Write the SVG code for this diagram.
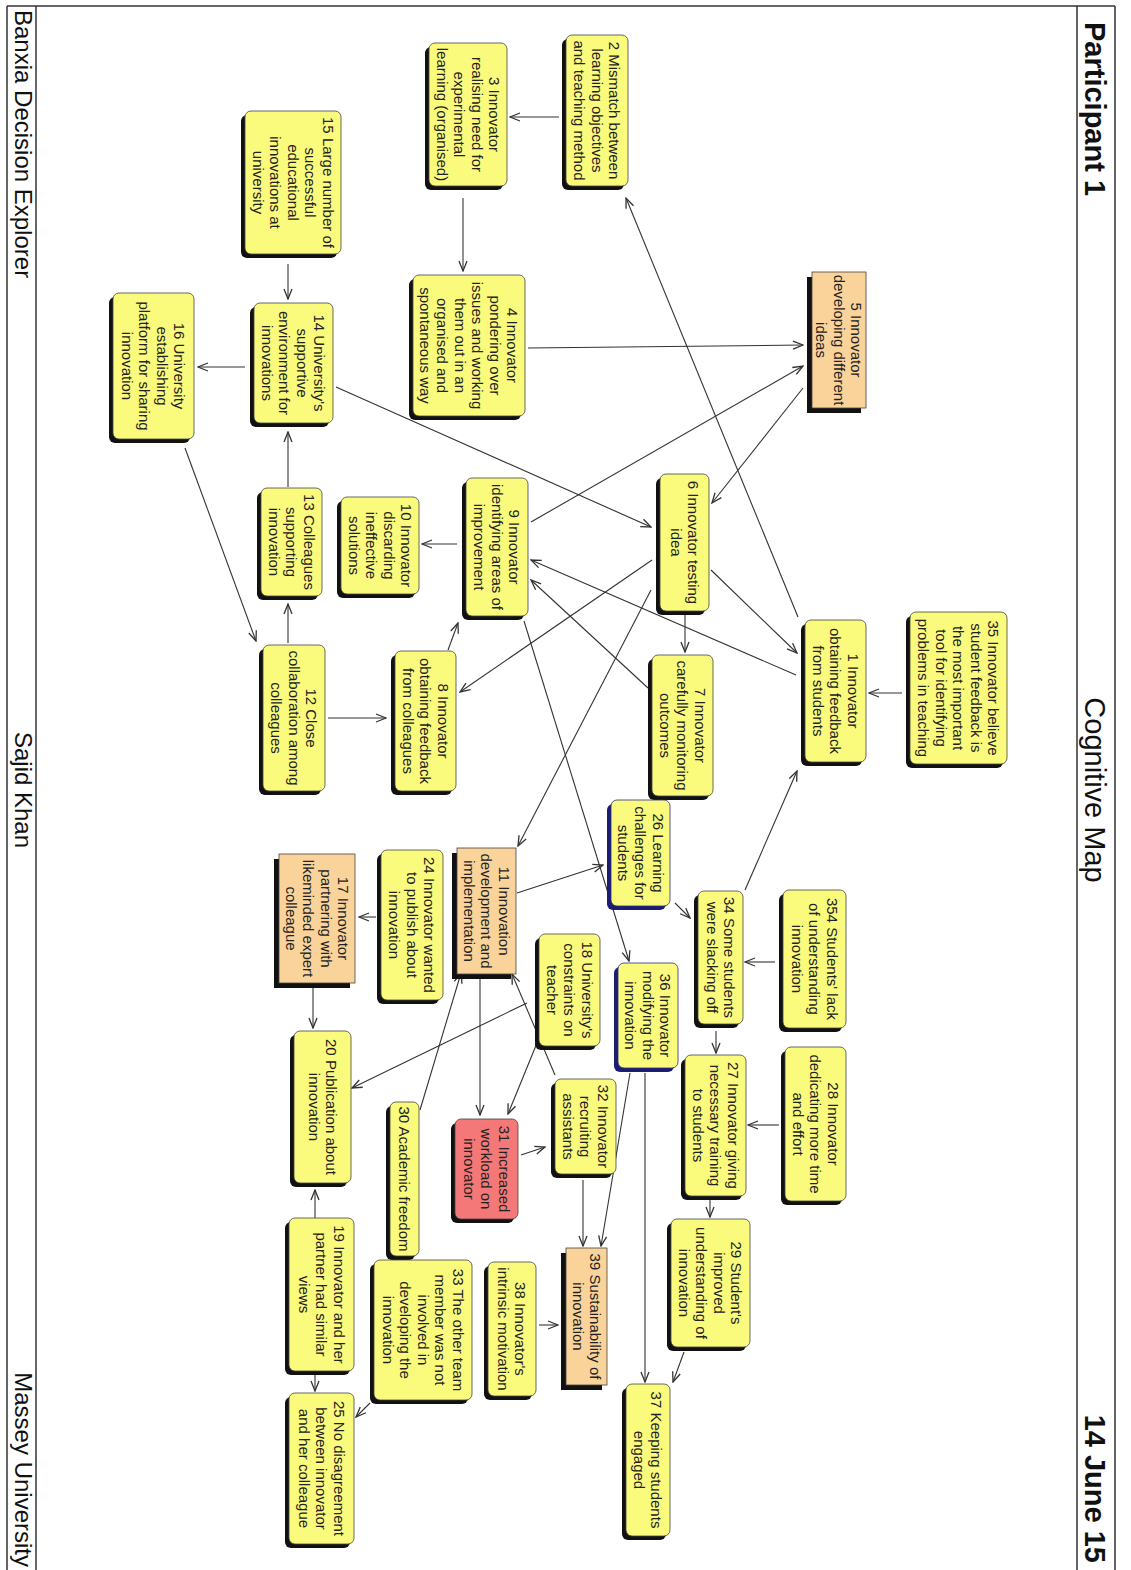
<svg xmlns="http://www.w3.org/2000/svg" width="1131" height="1570" viewBox="0 0 1131 1570">
<style>
  .frame{stroke:#333;stroke-width:1.5;fill:none}
  .hd{font-family:"Liberation Sans",Arial,sans-serif;fill:#111}
  .sh{fill:#111}
  .bx{fill:#fafa7c;stroke:#444;stroke-width:0.8}
  .or .bx{fill:#f9d39a}
  .rd .bx{fill:#f57878}
  .bl .sh{fill:#1c1c70}
  .bl .bx{stroke:#2c2c8a}
  .node text{font-family:"Liberation Sans",Arial,sans-serif;font-size:15px;fill:#222;text-anchor:middle}
  #links line{stroke:#333;stroke-width:1.1;marker-end:url(#ah)}
</style>
<defs>
  <marker id="ah" viewBox="0 0 12 10" refX="11" refY="5" markerWidth="12" markerHeight="10" markerUnits="userSpaceOnUse" orient="auto">
    <path d="M1,1 L11,5 L1,9" fill="none" stroke="#333" stroke-width="1.3"/>
  </marker>
</defs>
<rect width="1131" height="1570" fill="#fff"/>
<!-- page is laid out in landscape and turned a quarter turn clockwise -->
<g transform="translate(1131,0) rotate(90)">
  <g id="page">
    <line class="frame" x1="6" y1="16" x2="1600" y2="16"/>
    <line class="frame" x1="6" y1="1124" x2="1600" y2="1124"/>
    <line class="frame" x1="6" y1="16" x2="6" y2="1124"/>
    <line class="frame" x1="6" y1="54" x2="1600" y2="54"/>
    <line class="frame" x1="6" y1="1095" x2="1600" y2="1095"/>
    <text class="hd" x="22" y="46" font-size="29" font-weight="bold">Participant 1</text>
    <text class="hd" x="790" y="46" font-size="29" text-anchor="middle">Cognitive Map</text>
    <text class="hd" x="1563" y="46" font-size="29" font-weight="bold" text-anchor="end">14 June 15</text>
    <text class="hd" x="10" y="1116" font-size="24">Banxia Decision Explorer</text>
    <text class="hd" x="790" y="1116" font-size="24" text-anchor="middle">Sajid Khan</text>
    <text class="hd" x="1567" y="1116" font-size="24" text-anchor="end">Massey University</text>
  </g>

  <g id="links">
    <line x1="117" y1="572" x2="117" y2="621"/>
    <line x1="198" y1="668" x2="271" y2="668"/>
    <line x1="264" y1="843" x2="299" y2="843"/>
    <line x1="348" y1="603" x2="345" y2="328"/>
    <line x1="367" y1="886" x2="367" y2="933"/>
    <line x1="617" y1="333" x2="198" y2="505"/>
    <line x1="388" y1="328" x2="503" y2="419"/>
    <line x1="522" y1="600" x2="366" y2="328"/>
    <line x1="387" y1="795" x2="527" y2="480"/>
    <line x1="544" y1="674" x2="544" y2="709"/>
    <line x1="487" y1="843" x2="432" y2="843"/>
    <line x1="643" y1="843" x2="604" y2="843"/>
    <line x1="448" y1="946" x2="641" y2="875"/>
    <line x1="570" y1="420" x2="653" y2="334"/>
    <line x1="615" y1="446" x2="652" y2="446"/>
    <line x1="675" y1="335" x2="560" y2="600"/>
    <line x1="688" y1="483" x2="580" y2="600"/>
    <line x1="560" y1="479" x2="692" y2="671"/>
    <line x1="650" y1="683" x2="623" y2="673"/>
    <line x1="718" y1="803" x2="718" y2="745"/>
    <line x1="693" y1="229" x2="693" y2="262"/>
    <line x1="621" y1="607" x2="961" y2="502"/>
    <line x1="590" y1="480" x2="846" y2="613"/>
    <line x1="890" y1="386" x2="771" y2="334"/>
    <line x1="893" y1="614" x2="865" y2="528"/>
    <line x1="903" y1="456" x2="918" y2="441"/>
    <line x1="962" y1="356" x2="962" y2="386"/>
    <line x1="917" y1="755" x2="917" y2="772"/>
    <line x1="987" y1="818" x2="1028" y2="818"/>
    <line x1="1003" y1="604" x2="1088" y2="779"/>
    <line x1="978" y1="651" x2="1115" y2="651"/>
    <line x1="1110" y1="711" x2="973" y2="670"/>
    <line x1="1075" y1="576" x2="974" y2="619"/>
    <line x1="1043" y1="594" x2="1114" y2="623"/>
    <line x1="1155" y1="610" x2="1147" y2="586"/>
    <line x1="1031" y1="415" x2="1053" y2="415"/>
    <line x1="1125" y1="352" x2="1125" y2="383"/>
    <line x1="1180" y1="548" x2="1246" y2="548"/>
    <line x1="1073" y1="501" x2="1246" y2="530"/>
    <line x1="1073" y1="486" x2="1382" y2="486"/>
    <line x1="1200" y1="421" x2="1217" y2="421"/>
    <line x1="1352" y1="447" x2="1382" y2="458"/>
    <line x1="1325" y1="592" x2="1325" y2="573"/>
    <line x1="1218" y1="816" x2="1190" y2="816"/>
    <line x1="1375" y1="816" x2="1391" y2="816"/>
    <line x1="1403" y1="761" x2="1417" y2="775"/>
  </g>

  <g id="n2" class="node"><rect class="sh" x="39" y="507" width="151" height="62" rx="6"/><rect class="bx" x="35" y="503" width="151" height="62" rx="6"/>
    <text><tspan x="110.5" y="521.8">2 Mismatch between</tspan><tspan x="110.5" y="539.3">learning objectives</tspan><tspan x="110.5" y="556.8">and teaching method</tspan></text></g>
  <g id="n3" class="node"><rect class="sh" x="47" y="628" width="143" height="78" rx="6"/><rect class="bx" x="43" y="624" width="143" height="78" rx="6"/>
    <text><tspan x="114.5" y="642">3 Innovator</tspan><tspan x="114.5" y="659.5">realising need for</tspan><tspan x="114.5" y="677">experimental</tspan><tspan x="114.5" y="694.5">learning (organised)</tspan></text></g>
  <g id="n15" class="node"><rect class="sh" x="115" y="794" width="143" height="96" rx="6"/><rect class="bx" x="111" y="790" width="143" height="96" rx="6"/>
    <text><tspan x="182.5" y="808.3">15 Large number of</tspan><tspan x="182.5" y="825.8">successful</tspan><tspan x="182.5" y="843.3">educational</tspan><tspan x="182.5" y="860.8">innovations at</tspan><tspan x="182.5" y="878.3">university</tspan></text></g>
  <g id="n5" class="node or"><rect class="sh" x="277" y="270" width="136" height="54"/><rect class="bx" x="272" y="265" width="136" height="54"/>
    <text><tspan x="340" y="279.8">5 Innovator</tspan><tspan x="340" y="297.3">developing different</tspan><tspan x="340" y="314.8">ideas</tspan></text></g>
  <g id="n4" class="node"><rect class="sh" x="279" y="610" width="141" height="112" rx="6"/><rect class="bx" x="275" y="606" width="141" height="112" rx="6"/>
    <text><tspan x="345.5" y="623.6">4 Innovator</tspan><tspan x="345.5" y="641.1">pondering over</tspan><tspan x="345.5" y="658.6">issues and working</tspan><tspan x="345.5" y="676.1">them out in an</tspan><tspan x="345.5" y="693.6">organised and</tspan><tspan x="345.5" y="711.1">spontaneous way</tspan></text></g>
  <g id="n14" class="node"><rect class="sh" x="307" y="802" width="120" height="79" rx="6"/><rect class="bx" x="303" y="798" width="120" height="79" rx="6"/>
    <text><tspan x="363" y="816.6">14 University's</tspan><tspan x="363" y="834.1">supportive</tspan><tspan x="363" y="851.6">environment for</tspan><tspan x="363" y="869.1">innovations</tspan></text></g>
  <g id="n16" class="node"><rect class="sh" x="297" y="941" width="146" height="81" rx="6"/><rect class="bx" x="293" y="937" width="146" height="81" rx="6"/>
    <text><tspan x="366" y="956.6">16 University</tspan><tspan x="366" y="974.1">establishing</tspan><tspan x="366" y="991.6">platform for sharing</tspan><tspan x="366" y="1009.1">innovation</tspan></text></g>
  <g id="n6" class="node"><rect class="sh" x="478" y="426" width="137" height="49" rx="6"/><rect class="bx" x="474" y="422" width="137" height="49" rx="6"/>
    <text><tspan x="542.5" y="443">6 Innovator testing</tspan><tspan x="542.5" y="460.5">idea</tspan></text></g>
  <g id="n9" class="node"><rect class="sh" x="482" y="607" width="138" height="62" rx="6"/><rect class="bx" x="478" y="603" width="138" height="62" rx="6"/>
    <text><tspan x="547" y="621.8">9 Innovator</tspan><tspan x="547" y="639.3">identifying areas of</tspan><tspan x="547" y="656.8">improvement</tspan></text></g>
  <g id="n10" class="node"><rect class="sh" x="501" y="716" width="97" height="78" rx="6"/><rect class="bx" x="497" y="712" width="97" height="78" rx="6"/>
    <text><tspan x="545.5" y="730">10 Innovator</tspan><tspan x="545.5" y="747.5">discarding</tspan><tspan x="545.5" y="765">ineffective</tspan><tspan x="545.5" y="782.5">solutions</tspan></text></g>
  <g id="n13" class="node"><rect class="sh" x="492" y="813" width="108" height="61" rx="6"/><rect class="bx" x="488" y="809" width="108" height="61" rx="6"/>
    <text><tspan x="542" y="827.3">13 Colleagues</tspan><tspan x="542" y="844.8">supporting</tspan><tspan x="542" y="862.3">innovation</tspan></text></g>
  <g id="n1" class="node"><rect class="sh" x="624" y="269" width="142" height="61" rx="6"/><rect class="bx" x="620" y="265" width="142" height="61" rx="6"/>
    <text><tspan x="691" y="283.3">1 Innovator</tspan><tspan x="691" y="300.8">obtaining feedback</tspan><tspan x="691" y="318.3">from students</tspan></text></g>
  <g id="n35" class="node"><rect class="sh" x="616" y="128" width="152" height="97" rx="6"/><rect class="bx" x="612" y="124" width="152" height="97" rx="6"/>
    <text><tspan x="688" y="142.8">35 Innovator believe</tspan><tspan x="688" y="160.3">student feedback is</tspan><tspan x="688" y="177.8">the most important</tspan><tspan x="688" y="195.3">tool for identifying</tspan><tspan x="688" y="212.8">problems in teaching</tspan></text></g>
  <g id="n7" class="node"><rect class="sh" x="659" y="422" width="141" height="61" rx="6"/><rect class="bx" x="655" y="418" width="141" height="61" rx="6"/>
    <text><tspan x="725.5" y="436.3">7 Innovator</tspan><tspan x="725.5" y="453.8">carefully monitoring</tspan><tspan x="725.5" y="471.3">outcomes</tspan></text></g>
  <g id="n8" class="node"><rect class="sh" x="655" y="679" width="140" height="61" rx="6"/><rect class="bx" x="651" y="675" width="140" height="61" rx="6"/>
    <text><tspan x="721" y="693.3">8 Innovator</tspan><tspan x="721" y="710.8">obtaining feedback</tspan><tspan x="721" y="728.3">from colleagues</tspan></text></g>
  <g id="n12" class="node"><rect class="sh" x="649" y="810" width="146" height="62" rx="6"/><rect class="bx" x="645" y="806" width="146" height="62" rx="6"/>
    <text><tspan x="718" y="824.8">12 Close</tspan><tspan x="718" y="842.3">collaboration among</tspan><tspan x="718" y="859.8">colleagues</tspan></text></g>
  <g id="n26" class="node bl"><rect class="sh" x="804" y="465" width="106" height="59" rx="6"/><rect class="bx" x="800" y="461" width="106" height="59" rx="6"/>
    <text><tspan x="853" y="478.3">26 Learning</tspan><tspan x="853" y="495.8">challenges for</tspan><tspan x="853" y="513.3">students</tspan></text></g>
  <g id="n34" class="node"><rect class="sh" x="895" y="392" width="133" height="45" rx="6"/><rect class="bx" x="891" y="388" width="133" height="45" rx="6"/>
    <text><tspan x="957.5" y="407">34 Some students</tspan><tspan x="957.5" y="424.5">were slacking off</tspan></text></g>
  <g id="n354" class="node"><rect class="sh" x="894" y="289" width="138" height="63" rx="6"/><rect class="bx" x="890" y="285" width="138" height="63" rx="6"/>
    <text><tspan x="959" y="304.3">354 Students' lack</tspan><tspan x="959" y="321.8">of understanding</tspan><tspan x="959" y="339.3">innovation</tspan></text></g>
  <g id="n11" class="node or"><rect class="sh" x="853" y="620" width="126" height="59"/><rect class="bx" x="848" y="615" width="126" height="59"/>
    <text><tspan x="911" y="632.3">11 Innovation</tspan><tspan x="911" y="649.8">development and</tspan><tspan x="911" y="667.3">implementation</tspan></text></g>
  <g id="n24" class="node"><rect class="sh" x="854" y="692" width="150" height="62" rx="6"/><rect class="bx" x="850" y="688" width="150" height="62" rx="6"/>
    <text><tspan x="925" y="706.8">24 Innovator wanted</tspan><tspan x="925" y="724.3">to publish about</tspan><tspan x="925" y="741.8">innovation</tspan></text></g>
  <g id="n17" class="node or"><rect class="sh" x="859" y="781" width="129" height="76"/><rect class="bx" x="854" y="776" width="129" height="76"/>
    <text><tspan x="918.5" y="793">17 Innovator</tspan><tspan x="918.5" y="810.5">partnering with</tspan><tspan x="918.5" y="828">likeminded expert</tspan><tspan x="918.5" y="845.5">colleague</tspan></text></g>
  <g id="n18" class="node"><rect class="sh" x="938" y="535" width="112" height="61" rx="6"/><rect class="bx" x="934" y="531" width="112" height="61" rx="6"/>
    <text><tspan x="990" y="549.3">18 University's</tspan><tspan x="990" y="566.8">constraints on</tspan><tspan x="990" y="584.3">teacher</tspan></text></g>
  <g id="n36" class="node bl"><rect class="sh" x="967" y="457" width="105" height="60" rx="6"/><rect class="bx" x="963" y="453" width="105" height="60" rx="6"/>
    <text><tspan x="1015.5" y="470.8">36 Innovator</tspan><tspan x="1015.5" y="488.3">modifying the</tspan><tspan x="1015.5" y="505.8">innovation</tspan></text></g>
  <g id="n28" class="node"><rect class="sh" x="1051" y="289" width="154" height="61" rx="6"/><rect class="bx" x="1047" y="285" width="154" height="61" rx="6"/>
    <text><tspan x="1124" y="303.3">28 Innovator</tspan><tspan x="1124" y="320.8">dedicating more time</tspan><tspan x="1124" y="338.3">and effort</tspan></text></g>
  <g id="n27" class="node"><rect class="sh" x="1059" y="389" width="141" height="61" rx="6"/><rect class="bx" x="1055" y="385" width="141" height="61" rx="6"/>
    <text><tspan x="1125.5" y="403.3">27 Innovator giving</tspan><tspan x="1125.5" y="420.8">necessary training</tspan><tspan x="1125.5" y="438.3">to students</tspan></text></g>
  <g id="n20" class="node"><rect class="sh" x="1035" y="784" width="152" height="57" rx="6"/><rect class="bx" x="1031" y="780" width="152" height="57" rx="6"/>
    <text><tspan x="1107" y="805">20 Publication about</tspan><tspan x="1107" y="822.5">innovation</tspan></text></g>
  <g id="n32" class="node"><rect class="sh" x="1083" y="519" width="95" height="61" rx="6"/><rect class="bx" x="1079" y="515" width="95" height="61" rx="6"/>
    <text><tspan x="1126.5" y="533.3">32 Innovator</tspan><tspan x="1126.5" y="550.8">recruiting</tspan><tspan x="1126.5" y="568.3">assistants</tspan></text></g>
  <g id="n31" class="node rd"><rect class="sh" x="1123" y="617" width="100" height="63" rx="6"/><rect class="bx" x="1119" y="613" width="100" height="63" rx="6"/>
    <text><tspan x="1169" y="632.3">31 Increased</tspan><tspan x="1169" y="649.8">workload on</tspan><tspan x="1169" y="667.3">innovator</tspan></text></g>
  <g id="n30" class="node"><rect class="sh" x="1106" y="716" width="154" height="29" rx="6"/><rect class="bx" x="1102" y="712" width="154" height="29" rx="6"/>
    <text><tspan x="1179" y="731.8">30 Academic freedom</tspan></text></g>
  <g id="n29" class="node"><rect class="sh" x="1223" y="385" width="128" height="79" rx="6"/><rect class="bx" x="1219" y="381" width="128" height="79" rx="6"/>
    <text><tspan x="1283" y="399.6">29 Student's</tspan><tspan x="1283" y="417.1">improved</tspan><tspan x="1283" y="434.6">understanding of</tspan><tspan x="1283" y="452.1">innovation</tspan></text></g>
  <g id="n39" class="node or"><rect class="sh" x="1253" y="529" width="137" height="41"/><rect class="bx" x="1248" y="524" width="137" height="41"/>
    <text><tspan x="1316.5" y="541">39 Sustainability of</tspan><tspan x="1316.5" y="558.5">innovation</tspan></text></g>
  <g id="n38" class="node"><rect class="sh" x="1266" y="599" width="134" height="48" rx="6"/><rect class="bx" x="1262" y="595" width="134" height="48" rx="6"/>
    <text><tspan x="1329" y="615.6">38 Innovator's</tspan><tspan x="1329" y="633.1">intrinsic motivation</tspan></text></g>
  <g id="n33" class="node"><rect class="sh" x="1264" y="663" width="140" height="98" rx="6"/><rect class="bx" x="1260" y="659" width="140" height="98" rx="6"/>
    <text><tspan x="1330" y="678.3">33 The other team</tspan><tspan x="1330" y="695.8">member was not</tspan><tspan x="1330" y="713.3">involved in</tspan><tspan x="1330" y="730.8">developing the</tspan><tspan x="1330" y="748.3">innovation</tspan></text></g>
  <g id="n19" class="node"><rect class="sh" x="1222" y="781" width="153" height="65" rx="6"/><rect class="bx" x="1218" y="777" width="153" height="65" rx="6"/>
    <text><tspan x="1294.5" y="797.3">19 Innovator and her</tspan><tspan x="1294.5" y="814.8">partner had similar</tspan><tspan x="1294.5" y="832.3">views</tspan></text></g>
  <g id="n25" class="node"><rect class="sh" x="1397" y="781" width="151" height="65" rx="6"/><rect class="bx" x="1393" y="777" width="151" height="65" rx="6"/>
    <text><tspan x="1468.5" y="797.3">25 No disagreement</tspan><tspan x="1468.5" y="814.8">between innovator</tspan><tspan x="1468.5" y="832.3">and her colleague</tspan></text></g>
  <g id="n37" class="node"><rect class="sh" x="1388" y="465" width="152" height="44" rx="6"/><rect class="bx" x="1384" y="461" width="152" height="44" rx="6"/>
    <text><tspan x="1460" y="479.6">37 Keeping students</tspan><tspan x="1460" y="497.1">engaged</tspan></text></g>
</g>
</svg>
